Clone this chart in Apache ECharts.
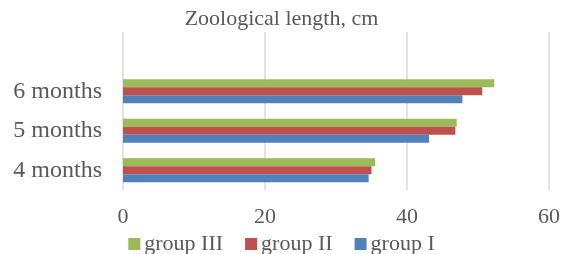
<!DOCTYPE html>
<html>
<head>
<meta charset="utf-8">
<script src="https://cdn.jsdelivr.net/npm/echarts@6/dist/echarts.min.js"></script>
<style>
html, body { margin: 0; padding: 0; background: #fff; }
#echart { width: 563px; height: 254px; }
</style>
</head>
<body>
<div id="echart"></div>
<script>
// categories bottom to top, the last one is an empty row like in the original
var categories = ['4 months', '5 months', '6 months', ''];
var groupI = [34.6, 43.1, 47.8, null];
var groupII = [35.0, 46.8, 50.6, null];
var groupIII = [35.5, 47.0, 52.3, null];
var xTicks = [0, 20, 40, 60];

var font = "'Liberation Serif', 'Times New Roman', serif";
var txt = '#595959';

var myChart = echarts.init(document.getElementById('echart'));
myChart.setOption({
	animation: false,
	title: {
		text: 'Zoological length, cm',
		left: 'center',
		top: 3,
		textStyle: { fontFamily: font, fontSize: 22, fontWeight: 'normal', color: txt }
	},
	legend: {
		data: ['group III', 'group II', 'group I'],
		bottom: -6,
		left: 'center',
		itemWidth: 12,
		itemHeight: 12,
		itemGap: 22,
		icon: 'rect',
		textStyle: { fontFamily: font, fontSize: 22, color: txt, padding: [0, 0, 0, -1] }
	},
	grid: { left: 123, right: 14, top: 32, bottom: 64, containLabel: false },
	xAxis: {
		type: 'value',
		min: xTicks[0],
		max: xTicks[xTicks.length - 1],
		interval: 20,
		axisLine: { show: false },
		axisTick: { show: false },
		axisLabel: { fontFamily: font, fontSize: 22, color: txt, margin: 16 },
		splitLine: { lineStyle: { color: '#D9D9D9', width: 1.5 } }
	},
	yAxis: {
		type: 'category',
		data: categories,
		axisLine: { show: false },
		axisTick: { show: false },
		axisLabel: { fontFamily: font, fontSize: 24, color: txt, margin: 21, padding: [4, 0, 0, 0] }
	},
	// in this layout the first series sits on top of each group
	series: [{
		name: 'group III',
		type: 'bar',
		barWidth: 8,
		barGap: '0%',
		itemStyle: { color: '#9BBB59' },
		data: groupIII
	}, {
		name: 'group II',
		type: 'bar',
		barWidth: 8,
		barGap: '0%',
		itemStyle: { color: '#C0504D' },
		data: groupII
	}, {
		name: 'group I',
		type: 'bar',
		barWidth: 8,
		barGap: '0%',
		itemStyle: { color: '#4F81BD' },
		data: groupI
	}]
});
</script>
</body>
</html>
